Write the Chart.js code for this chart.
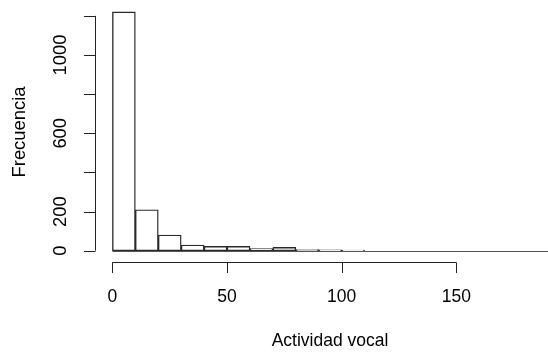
<!DOCTYPE html>
<html>
<head>
<meta charset="utf-8">
<script src="https://cdn.jsdelivr.net/npm/chart.js@4/dist/chart.umd.min.js"></script>
<style>
  html, body { margin: 0; padding: 0; background: #fff; overflow: hidden; }
  #c { display: block; }
</style>
</head>
<body>
<canvas id="c" width="548" height="352"></canvas>
<script>
// Histogram bins (width 10) and their counts
const binStarts = [0, 10, 20, 30, 40, 50, 60, 70, 80, 90, 100, 110, 120, 130, 140, 150, 160, 170, 180];
const binWidth = 10;
const counts = [1220, 209, 80, 29, 22, 22, 11, 17, 6, 4, 3, 0, 0, 0, 0, 0, 0, 0, 0];

// Axis ticks and the labels that are printed
const xTicks = [0, 50, 100, 150];
const yTicks = [0, 200, 400, 600, 800, 1000, 1200];
const yLabelTicks = [0, 200, 600, 1000];

const xTitle = 'Actividad vocal';
const yTitle = 'Frecuencia';

const points = binStarts.map((b, i) => ({ x: b + binWidth / 2, y: counts[i] }));

const FONT = '17.5px "Liberation Sans", Arial, sans-serif';
const STRETCH = 1.05;

function drawText(ctx, txt, x, y, rotate, align, baseline) {
  ctx.save();
  ctx.translate(x, y);
  ctx.scale(1, STRETCH);
  if (rotate) ctx.rotate(-Math.PI / 2);
  ctx.font = FONT;
  ctx.fillStyle = '#000';
  ctx.textAlign = align;
  ctx.textBaseline = baseline;
  ctx.fillText(txt, 0, 0);
  ctx.restore();
}

const baseAxes = {
  id: 'baseAxes',
  afterDatasetsDraw(chart) {
    const ctx = chart.ctx;
    const xs = chart.scales.x, ys = chart.scales.y;
    const area = chart.chartArea;
    ctx.save();
    ctx.lineWidth = 1;

    // histogram base line across every bin (empty bins included)
    const y0 = Math.round(ys.getPixelForValue(0)) + 0.5;
    ctx.beginPath();
    ctx.moveTo(xs.getPixelForValue(binStarts[0]), y0);
    ctx.lineTo(xs.getPixelForValue(binStarts[binStarts.length - 1] + binWidth), y0);
    ctx.strokeStyle = '#555';
    ctx.stroke();
    ctx.strokeStyle = '#222';

    // x axis
    const xa = Math.round(area.bottom) + 0.5;
    ctx.beginPath();
    ctx.moveTo(xs.getPixelForValue(xTicks[0]), xa);
    ctx.lineTo(xs.getPixelForValue(xTicks[xTicks.length - 1]), xa);
    xTicks.forEach(t => {
      const px = Math.round(xs.getPixelForValue(t)) + 0.5;
      ctx.moveTo(px, xa);
      ctx.lineTo(px, xa + 10.5);
    });
    ctx.stroke();
    xTicks.forEach(t => {
      drawText(ctx, String(t), xs.getPixelForValue(t), 302, false, 'center', 'alphabetic');
    });

    // y axis
    const ya = Math.round(area.left) + 0.5;
    ctx.beginPath();
    ctx.moveTo(ya, ys.getPixelForValue(yTicks[0]));
    ctx.lineTo(ya, ys.getPixelForValue(yTicks[yTicks.length - 1]));
    yTicks.forEach(t => {
      const py = Math.round(ys.getPixelForValue(t)) + 0.5;
      ctx.moveTo(ya, py);
      ctx.lineTo(ya - 11.5, py);
    });
    ctx.stroke();
    yLabelTicks.forEach(t => {
      drawText(ctx, String(t), 66, ys.getPixelForValue(t), true, 'center', 'alphabetic');
    });

    // axis titles
    drawText(ctx, xTitle, 330, 346, false, 'center', 'alphabetic');
    drawText(ctx, yTitle, 25, 132, true, 'center', 'alphabetic');
    ctx.restore();
  }
};

new Chart(document.getElementById('c'), {
  type: 'bar',
  data: {
    datasets: [{
      data: points,
      backgroundColor: '#ffffff',
      borderColor: '#2a2a2a',
      borderWidth: 1.4,
      borderSkipped: false,
      barPercentage: 1,
      categoryPercentage: 1
    }]
  },
  options: {
    responsive: false,
    devicePixelRatio: 1,
    animation: false,
    layout: { padding: { left: 95, right: 0, top: 2.4, bottom: 90.5 } },
    plugins: { legend: { display: false }, tooltip: { enabled: false } },
    scales: {
      x: { type: 'linear', min: -7.6, max: 190, offset: false, display: false },
      y: { type: 'linear', min: -55.2, max: 1268.8, display: false }
    }
  },
  plugins: [baseAxes]
});
</script>
</body>
</html>
